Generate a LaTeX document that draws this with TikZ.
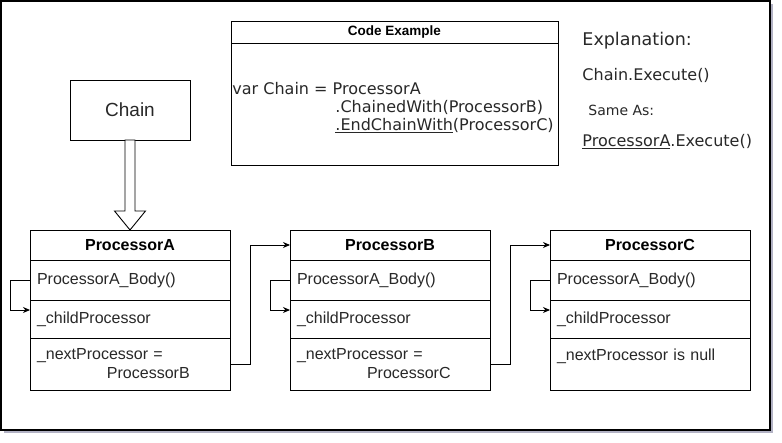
\documentclass[tikz,border=0pt]{standalone}
\usepackage{fontspec}
\setmainfont{Liberation Sans}
\newfontfamily\codefont{DejaVu Sans}
\usepackage{xcolor}
\usetikzlibrary{arrows.meta,positioning}

\definecolor{shadowgray}{RGB}{178,178,196}
\definecolor{txtgray}{RGB}{40,40,40}

\begin{document}
\begin{tikzpicture}[
  x=1pt, y=-1pt,
  >={Stealth[length=7pt,width=6pt]},
  line width=0.9pt,
  box/.style={draw, fill=white, minimum width=200pt, inner sep=0pt, outer sep=0pt},
  hdr/.style={box, minimum height=30pt, font=\fontsize{16}{19}\selectfont\bfseries},
  row/.style={box, minimum height=#1, inner xsep=7pt, text width=186pt, align=left,
    font=\fontsize{16}{19}\selectfont, text=txtgray},
  code/.style={anchor=west, inner sep=0pt, font=\codefont\fontsize{16}{19}\selectfont, text=txtgray},
]
\useasboundingbox (0,0) rectangle (782,442);

%--- FRAME ---
\fill[shadowgray] (4,4) rectangle (773,433);
\draw[fill=white, line width=1.2pt] (1,1) rectangle (770,430);

%--- CHAIN ---
\node[draw, minimum width=120pt, minimum height=60pt, outer sep=0pt,
  font=\fontsize{19}{22}\selectfont, text=txtgray]
  (ch) at (130,110) {Chain};

%--- CODE EXAMPLE ---
\node[draw, minimum width=327pt, minimum height=22pt, inner sep=0pt, outer sep=0pt,
  font=\fontsize{13.5}{16}\selectfont\bfseries]
  (ceT) at (394.5,32) {Code Example};
\node[draw, minimum width=327pt, minimum height=122pt, inner sep=0pt, outer sep=0pt,
  below=0pt of ceT] (ceB) {};
\node[code] (c1) at (232,89) {var Chain = ProcessorA};
\node[code] (c2) at (335,107.5) {.ChainedWith(ProcessorB)};
\node[code] (c3) at (335,125.5) {\underline{.EndChainWith}(ProcessorC)};

%--- EXPLANATION ---
\node[code, font=\codefont\fontsize{17.5}{20}\selectfont] (e1) at (582,41) {Explanation:};
\node[code] (e2) at (582,75) {Chain.Execute()};
\node[code, font=\codefont\fontsize{14}{17}\selectfont] (e3) at (588,110) {Same As:};
\node[code] (e4) at (582,142) {\underline{ProcessorA}.Execute()};

%--- PROCESSORS ---
\foreach \p/\x in {A/30,B/290,C/550} {
  \node[hdr, anchor=north west] (h\p) at (\x,230) {Processor\p};
  \node[row=40pt, below=0pt of h\p] (b\p) {ProcessorA\_Body()};
  \node[row=38pt, below=0pt of b\p] (k\p) {\_childProcessor};
  \draw[->] (b\p.west) -- ++(-20,0) |- ([yshift=9pt]k\p.west);
}
\node[row=52pt, below=0pt of kA] (nA) {\_nextProcessor =\\\hspace*{70pt}ProcessorB};
\node[row=52pt, below=0pt of kB] (nB) {\_nextProcessor =\\\hspace*{70pt}ProcessorC};
\node[row=52pt, below=0pt of kC] (nC) {\_nextProcessor is null\\\mbox{}};

%--- ARROWS ---
\draw[fill=white] ([xshift=-5pt]ch.south) -- ++(0,71) -- ++(-10.5,0)
  -- (hA.north) -- ++(15.5,-19) -- ++(-10.5,0) -- ([xshift=5pt]ch.south) -- cycle;
\draw[->] (nA.east) -- ++(20,0) |- (hB.west);
\draw[->] (nB.east) -- ++(20,0) |- (hC.west);
\end{tikzpicture}
\end{document}
